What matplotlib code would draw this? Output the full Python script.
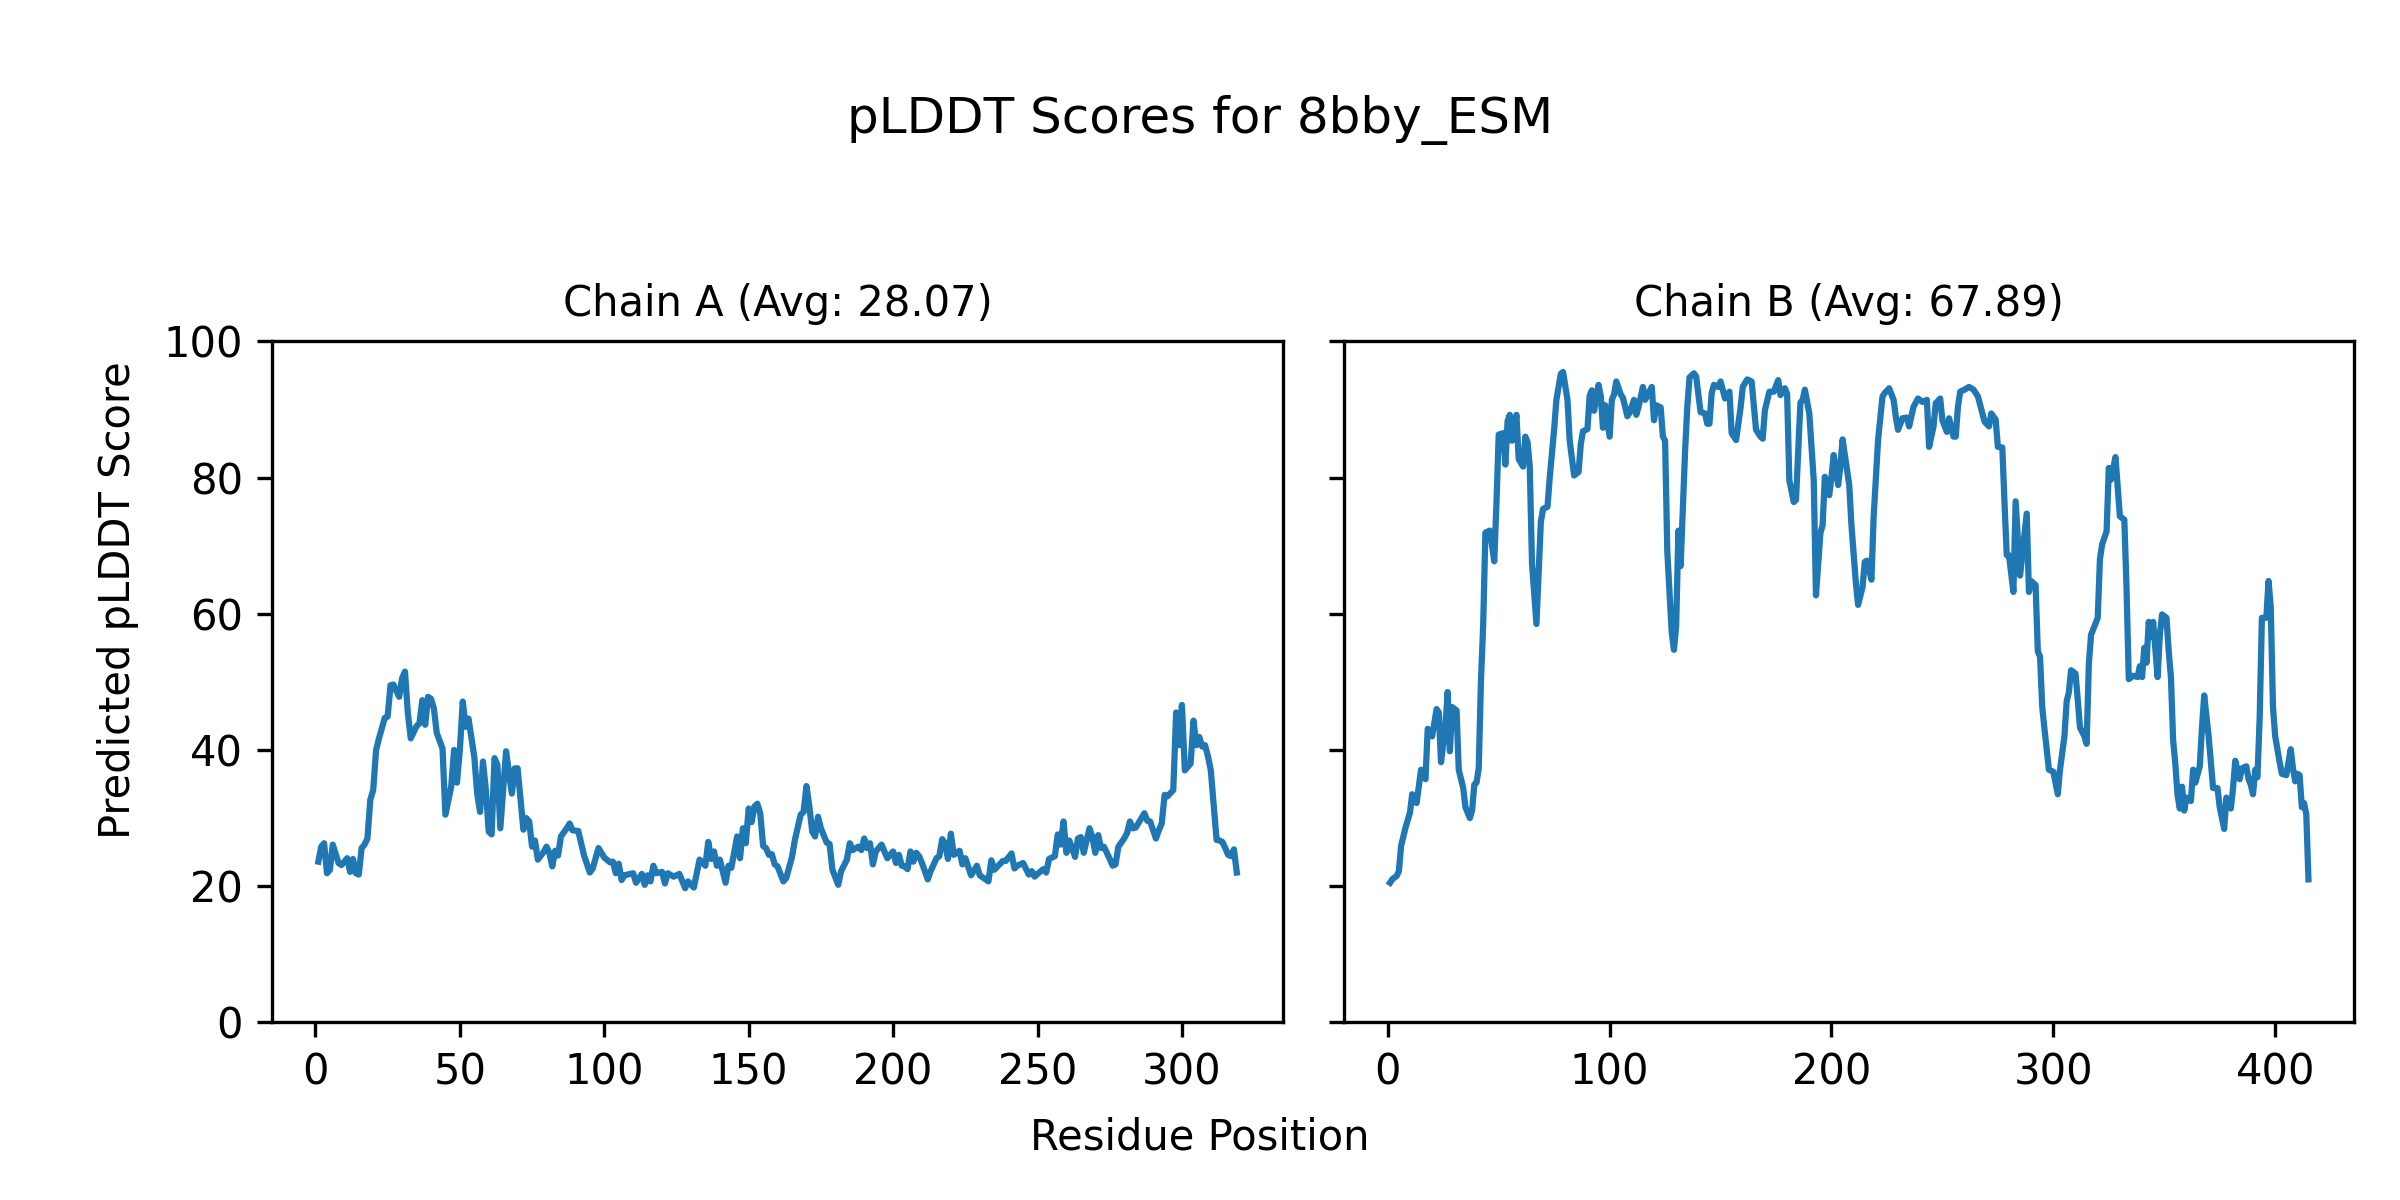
import matplotlib
matplotlib.use("Agg")
import matplotlib.pyplot as plt

# Chain A: residue positions and pLDDT scores
pos_a = [1, 2, 3, 4, 5, 6, 8, 9, 11, 12, 13, 14, 15, 16, 17, 18, 19, 20, 21, 22,
         24, 25, 26, 27, 29, 30, 31, 32, 33, 35, 36, 37, 38, 39, 40, 41, 42, 44, 45, 47,
         48, 49, 50, 51, 52, 53, 55, 56, 57, 58, 59, 60, 61, 62, 63, 64, 66, 68, 69, 70,
         72, 73, 74, 75, 76, 77, 79, 80, 81, 82, 83, 84, 85, 87, 88, 89, 91, 92, 93, 95,
         96, 98, 100, 102, 103, 104, 105, 106, 107, 110, 111, 113, 114, 115, 116, 117, 118, 120, 121, 122,
         124, 126, 128, 129, 131, 133, 135, 136, 137, 138, 139, 140, 142, 143, 144, 146, 147, 148, 149, 150,
         151, 152, 153, 154, 155, 156, 157, 158, 159, 160, 162, 163, 165, 166, 168, 169, 170, 171, 172, 173,
         174, 175, 177, 178, 179, 181, 182, 184, 185, 186, 188, 189, 190, 191, 192, 193, 194, 196, 198, 199,
         200, 201, 202, 203, 204, 205, 206, 207, 208, 209, 210, 212, 213, 215, 216, 217, 218, 219, 220, 221,
         223, 224, 225, 227, 229, 230, 231, 233, 234, 235, 238, 239, 241, 242, 243, 245, 247, 248, 249, 250,
         252, 253, 254, 256, 257, 258, 259, 260, 261, 263, 264, 265, 266, 268, 269, 270, 271, 272, 273, 275,
         276, 277, 278, 280, 281, 282, 283, 284, 286, 287, 288, 289, 291, 292, 293, 294, 295, 297, 298, 299,
         300, 301, 303, 304, 305, 306, 307, 308, 309, 310, 312, 313, 314, 315, 316, 317, 318, 319]
score_a = [23.6, 25.8, 26.3, 21.9, 22.4, 26.1, 23.4, 23.1, 24.1, 22.1, 24.0, 21.9, 21.7, 25.6, 26.1, 27.0, 32.7, 34.1, 40.0, 41.7,
           44.7, 44.9, 49.5, 49.6, 47.8, 50.5, 51.5, 45.4, 41.7, 43.5, 43.9, 47.3, 43.7, 47.8, 47.5, 46.1, 42.5, 40.2, 30.5, 34.6,
           40.0, 35.2, 40.0, 47.1, 43.4, 44.6, 39.0, 33.6, 30.9, 38.3, 34.2, 28.0, 27.6, 38.8, 37.8, 28.5, 39.8, 33.6, 37.3, 37.3,
           28.3, 30.0, 29.5, 25.8, 26.7, 23.9, 25.0, 25.8, 24.9, 22.9, 25.2, 24.5, 27.3, 28.5, 29.2, 28.2, 28.1, 26.3, 24.5, 22.0,
           22.6, 25.6, 24.2, 23.5, 23.6, 21.9, 23.3, 20.9, 21.6, 21.9, 20.5, 21.8, 20.2, 21.6, 20.7, 23.0, 21.9, 22.1, 20.4, 21.9,
           21.4, 21.8, 19.7, 20.7, 19.8, 23.9, 23.0, 26.5, 24.0, 25.1, 23.0, 23.9, 20.5, 23.0, 22.7, 27.3, 24.1, 28.5, 26.3, 31.4,
           29.4, 31.7, 32.1, 30.7, 25.9, 25.6, 24.6, 24.7, 23.2, 22.9, 20.7, 21.2, 24.3, 26.8, 30.5, 30.9, 34.7, 31.7, 28.0, 27.3,
           30.2, 28.5, 26.4, 26.2, 22.4, 20.2, 22.2, 23.9, 26.3, 25.3, 25.8, 25.3, 27.0, 25.6, 26.3, 23.2, 25.1, 26.1, 24.1, 24.6,
           25.1, 23.4, 24.6, 23.0, 22.9, 22.5, 25.1, 23.6, 24.9, 24.4, 23.4, 21.0, 22.2, 24.1, 24.4, 26.9, 26.3, 24.0, 27.7, 24.6,
           25.2, 23.2, 24.1, 21.6, 23.0, 21.6, 21.3, 20.7, 23.8, 22.4, 23.7, 23.7, 24.8, 22.6, 23.0, 23.4, 21.7, 22.2, 21.4, 21.8,
           22.5, 22.0, 24.0, 24.4, 27.6, 26.1, 29.5, 24.9, 26.7, 24.3, 27.0, 27.2, 24.9, 28.5, 27.2, 24.9, 27.5, 25.6, 25.8, 24.0,
           23.0, 23.2, 25.8, 27.0, 27.8, 29.5, 28.5, 28.6, 30.0, 30.7, 29.6, 29.5, 27.0, 28.2, 29.2, 33.4, 33.2, 34.1, 45.5, 40.7,
           46.6, 37.0, 38.0, 44.3, 40.7, 41.9, 40.5, 40.7, 39.1, 37.0, 26.8, 26.7, 26.5, 25.6, 24.6, 24.4, 25.4, 22.0]

# Chain B
pos_b = [1, 2, 4, 5, 6, 8, 10, 11, 13, 14, 15, 17, 18, 20, 22, 23, 24, 26, 27, 28,
         29, 31, 32, 34, 35, 37, 38, 39, 40, 41, 42, 43, 44, 46, 48, 49, 50, 52, 53, 54,
         55, 56, 58, 59, 61, 62, 63, 64, 65, 67, 69, 70, 72, 73, 75, 76, 78, 79, 81, 82,
         84, 86, 87, 88, 90, 91, 92, 93, 95, 96, 97, 98, 100, 101, 102, 103, 105, 106, 108, 109,
         111, 112, 113, 115, 116, 119, 120, 121, 123, 124, 125, 126, 128, 129, 130, 131, 132, 134, 135, 136,
         138, 139, 141, 143, 144, 145, 146, 147, 149, 150, 152, 154, 155, 157, 159, 160, 162, 164, 166, 168,
         169, 170, 172, 174, 176, 177, 179, 180, 181, 183, 184, 186, 187, 188, 190, 192, 193, 195, 196, 197,
         199, 200, 201, 203, 204, 205, 206, 208, 209, 211, 212, 214, 215, 216, 218, 219, 221, 223, 224, 226,
         228, 229, 230, 232, 234, 235, 237, 239, 241, 243, 244, 246, 247, 249, 250, 252, 253, 255, 256, 257,
         258, 260, 262, 264, 266, 268, 269, 271, 272, 274, 275, 277, 278, 279, 280, 282, 283, 285, 288, 289,
         290, 292, 293, 294, 295, 296, 298, 300, 302, 303, 305, 306, 307, 308, 310, 311, 312, 314, 315, 316,
         317, 320, 321, 322, 324, 325, 326, 327, 328, 330, 332, 333, 334, 336, 338, 339, 340, 341, 342, 343,
         344, 345, 347, 348, 349, 351, 352, 353, 354, 355, 356, 357, 358, 359, 360, 362, 363, 364, 366, 367,
         368, 370, 372, 374, 375, 377, 378, 380, 381, 382, 384, 385, 387, 388, 389, 390, 391, 392, 393, 394,
         396, 397, 398, 399, 400, 402, 403, 405, 407, 408, 409, 410, 411, 412, 413, 414, 415]
score_b = [20.5, 21.0, 21.5, 22.2, 25.9, 28.6, 30.8, 33.5, 32.2, 34.6, 37.1, 35.7, 43.1, 42.0, 46.0, 45.5, 38.2, 43.6, 48.5, 39.8,
           46.3, 45.8, 37.1, 34.4, 31.6, 30.0, 31.1, 34.9, 35.2, 37.3, 50.1, 58.3, 71.9, 72.2, 67.7, 76.3, 86.3, 86.5, 81.9, 88.3,
           89.2, 85.4, 89.2, 82.7, 81.6, 86.0, 85.2, 81.6, 67.5, 58.5, 73.5, 75.4, 75.7, 80.0, 87.1, 91.4, 95.2, 95.5, 91.4, 85.4,
           80.3, 80.8, 84.9, 86.8, 87.1, 92.0, 92.8, 89.8, 93.6, 92.0, 87.3, 90.6, 86.0, 91.4, 92.2, 94.1, 92.2, 91.7, 89.0, 89.5,
           91.4, 89.2, 90.3, 93.3, 91.4, 93.3, 88.4, 90.6, 90.3, 86.0, 85.4, 69.1, 57.2, 54.7, 58.3, 72.2, 67.0, 83.8, 90.3, 94.7,
           95.3, 94.8, 89.6, 89.4, 87.9, 87.9, 92.4, 93.6, 93.3, 94.1, 91.6, 92.6, 86.5, 85.5, 90.2, 93.3, 94.4, 94.1, 87.0, 86.0,
           85.7, 89.9, 92.6, 92.6, 94.3, 92.1, 93.1, 92.3, 79.6, 76.4, 76.7, 91.0, 91.4, 92.9, 89.4, 79.6, 62.7, 71.8, 73.0, 80.1,
           77.4, 80.1, 83.3, 78.9, 81.6, 85.6, 83.4, 78.9, 73.0, 64.5, 61.3, 63.9, 67.6, 67.8, 65.0, 74.2, 85.5, 91.9, 92.4, 93.1,
           91.4, 88.9, 87.0, 88.7, 88.8, 87.5, 90.4, 91.6, 91.1, 91.4, 84.5, 87.5, 90.9, 91.6, 88.4, 86.7, 88.7, 86.0, 86.0, 90.4,
           92.6, 92.9, 93.3, 92.9, 91.9, 89.4, 88.2, 87.5, 89.4, 88.5, 84.5, 84.4, 76.2, 68.6, 68.6, 63.2, 76.5, 65.6, 74.7, 63.2,
           64.8, 64.2, 54.5, 53.7, 46.3, 43.1, 37.1, 36.8, 33.5, 37.1, 42.0, 47.1, 48.5, 51.7, 51.2, 47.4, 43.3, 42.0, 40.9, 52.6,
           56.9, 59.4, 68.0, 70.2, 72.1, 81.4, 79.7, 81.4, 83.0, 74.3, 73.8, 63.7, 50.4, 50.9, 50.7, 52.3, 50.7, 55.0, 52.8, 58.8,
           56.6, 58.8, 50.7, 56.9, 59.9, 59.4, 54.5, 50.7, 41.4, 37.9, 33.3, 31.4, 34.6, 31.1, 33.0, 32.5, 37.1, 35.2, 37.6, 43.3,
           48.0, 42.0, 34.4, 34.4, 31.6, 28.4, 33.0, 31.4, 34.4, 38.4, 35.7, 37.3, 37.6, 35.7, 34.9, 33.5, 37.1, 36.0, 44.7, 59.4,
           59.4, 64.8, 61.0, 46.3, 42.0, 38.2, 36.5, 36.3, 40.1, 37.3, 35.4, 36.5, 36.3, 31.6, 32.2, 30.6, 21.0]

chains = ["A", "B"]
averages = [28.07, 67.89]
protein = "8bby_ESM"

fig, axes = plt.subplots(1, 2, figsize=(8, 4), dpi=300, sharey=True)
fig.subplots_adjust(left=0.1135, right=0.981, bottom=0.148, top=0.7156, wspace=0.0607)

for ax, chain, avg, pos, score in zip(axes, chains, averages, [pos_a, pos_b], [score_a, score_b]):
	ax.plot(pos, score)
	ax.set_title("Chain %s (Avg: %.2f)" % (chain, avg), fontsize=10)
	ax.set_ylim(0, 100)

fig.suptitle("pLDDT Scores for %s" % protein, fontsize=12, y=0.90, va="center")
fig.supxlabel("Residue Position", fontsize=10, y=0.0525, va="center")
fig.supylabel("Predicted pLDDT Score", fontsize=10, x=0.049, y=0.5, ha="center", va="center")

plt.savefig("out.png", dpi=300)
